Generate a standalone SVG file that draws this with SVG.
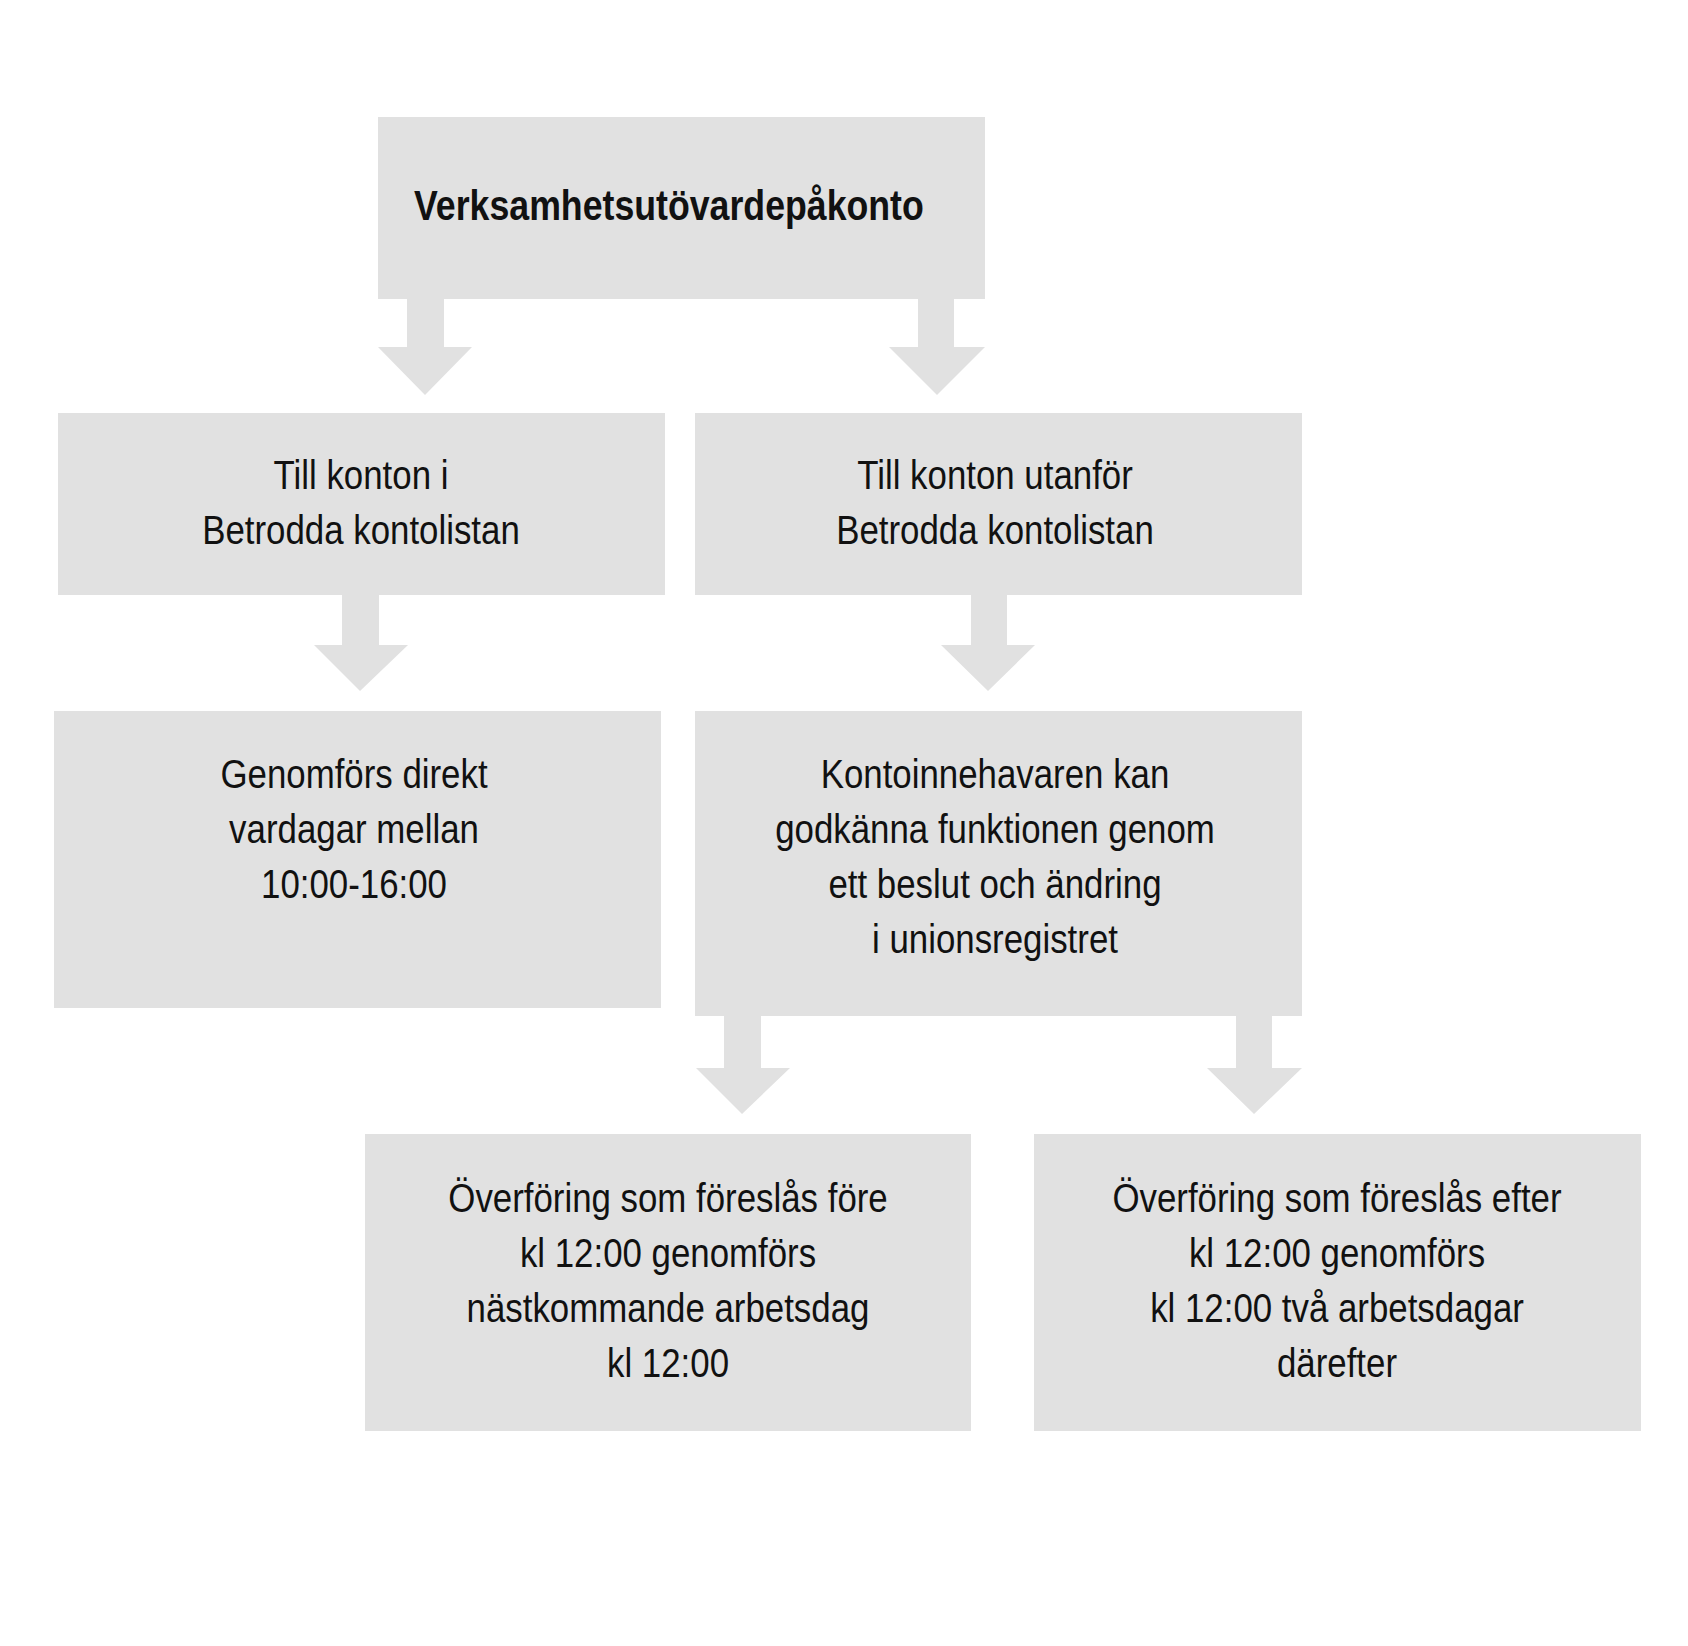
<svg xmlns="http://www.w3.org/2000/svg" width="1688" height="1646" viewBox="0 0 1688 1646">
<style>
.b{fill:#e1e1e1}
.a{fill:#e1e1e1}
text{font-family:"Liberation Sans",Arial,sans-serif;font-size:41px;fill:#111;text-anchor:middle}
.t{font-weight:bold;font-size:42px;text-anchor:start}
</style>
<rect width="1688" height="1646" fill="#fff"/>
<g id="connectors">
<polygon class="a" points="407,299 444,299 444,347 472,347 425,395 378,347 407,347"/>
<polygon class="a" points="918,299 954,299 954,347 985,347 937,395 889,347 918,347"/>
<polygon class="a" points="342,595 379,595 379,645 408,645 360,691 314,645 342,645"/>
<polygon class="a" points="971,595 1007,595 1007,645 1035,645 988,691 941,645 971,645"/>
<polygon class="a" points="724,1016 761,1016 761,1068 790,1068 742,1114 696,1068 724,1068"/>
<polygon class="a" points="1236,1016 1272,1016 1272,1068 1302,1068 1254,1114 1207,1068 1236,1068"/>
</g>
<g id="top"><rect class="b" x="378" y="117" width="607" height="182"/>
<text class="t" transform="translate(414,220) scale(0.85,1)">Verksamhetsutövardepåkonto</text></g>
<g id="l1"><rect class="b" x="58" y="413" width="607" height="182"/>
<g transform="translate(361,0) scale(0.85,1)"><text y="489">Till konton i</text><text y="544">Betrodda kontolistan</text></g></g>
<g id="r1"><rect class="b" x="695" y="413" width="607" height="182"/>
<g transform="translate(995,0) scale(0.85,1)"><text y="489">Till konton utanför</text><text y="544">Betrodda kontolistan</text></g></g>
<g id="l2"><rect class="b" x="54" y="711" width="607" height="297"/>
<g transform="translate(354,0) scale(0.85,1)"><text y="788">Genomförs direkt</text><text y="843">vardagar mellan</text><text y="898">10:00-16:00</text></g></g>
<g id="r2"><rect class="b" x="695" y="711" width="607" height="305"/>
<g transform="translate(995,0) scale(0.85,1)"><text y="788">Kontoinnehavaren kan</text><text y="843">godkänna funktionen genom</text><text y="898">ett beslut och ändring</text><text y="953">i unionsregistret</text></g></g>
<g id="b1"><rect class="b" x="365" y="1134" width="606" height="297"/>
<g transform="translate(668,0) scale(0.85,1)"><text y="1212">Överföring som föreslås före</text><text y="1267">kl 12:00 genomförs</text><text y="1322">nästkommande arbetsdag</text><text y="1377">kl 12:00</text></g></g>
<g id="b2"><rect class="b" x="1034" y="1134" width="607" height="297"/>
<g transform="translate(1337,0) scale(0.85,1)"><text y="1212">Överföring som föreslås efter</text><text y="1267">kl 12:00 genomförs</text><text y="1322">kl 12:00 två arbetsdagar</text><text y="1377">därefter</text></g></g>
</svg>
